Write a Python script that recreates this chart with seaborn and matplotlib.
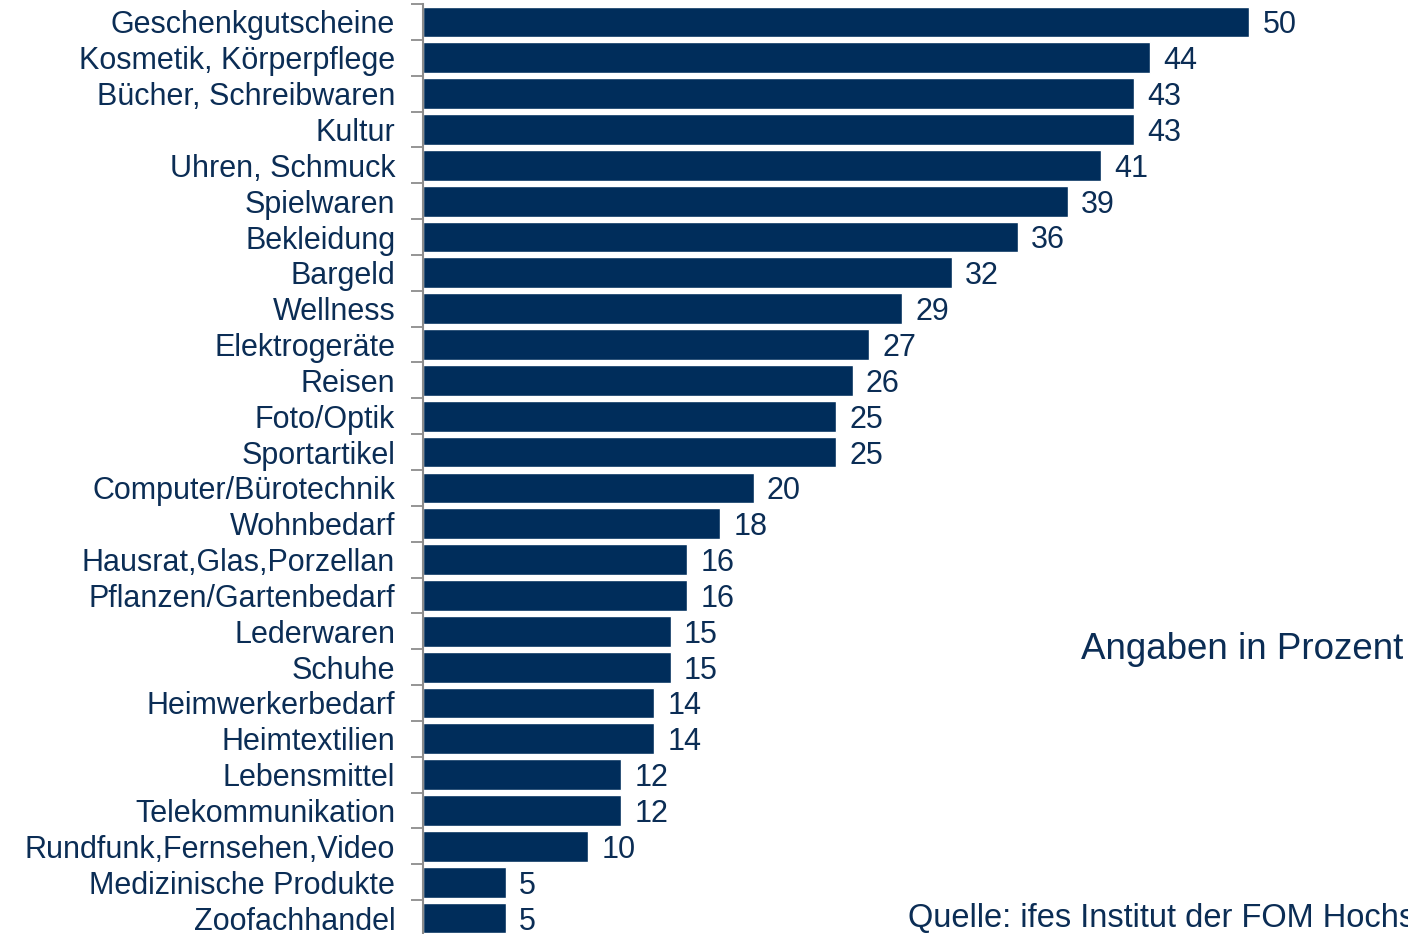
import numpy as np
import pandas as pd
import matplotlib
matplotlib.use('Agg')
import matplotlib.pyplot as plt
import seaborn as sns

# ── Data ──────────────────────────────────────────────────────────────────────
categories = [
    'Geschenkgutscheine', 'Kosmetik, Körperpflege', 'Bücher, Schreibwaren',
    'Kultur', 'Uhren, Schmuck', 'Spielwaren', 'Bekleidung', 'Bargeld',
    'Wellness', 'Elektrogeräte', 'Reisen', 'Foto/Optik', 'Sportartikel',
    'Computer/Bürotechnik', 'Wohnbedarf', 'Hausrat,Glas,Porzellan',
    'Pflanzen/Gartenbedarf', 'Lederwaren', 'Schuhe', 'Heimwerkerbedarf',
    'Heimtextilien', 'Lebensmittel', 'Telekommunikation',
    'Rundfunk,Fernsehen,Video', 'Medizinische Produkte', 'Zoofachhandel',
]
values = [50, 44, 43, 43, 41, 39, 36, 32, 29, 27, 26, 25, 25,
          20, 18, 16, 16, 15, 15, 14, 14, 12, 12, 10, 5, 5]

df = pd.DataFrame({'kategorie': categories, 'prozent': values})

BAR = '#002d5b'
TEXT = '#0b2d55'

sns.set_theme(style='white')
plt.rcParams['font.family'] = ['Liberation Sans', 'DejaVu Sans']

W, H = 1408, 934
fig = plt.figure(figsize=(W / 100, H / 100), dpi=100)
# the last row runs slightly past the bottom edge, like the cropped slide
ax = fig.add_axes([423 / W, -2 / H, 1 - 423 / W, 932 / H])

sns.barplot(data=df, y='kategorie', x='prozent', orient='h',
            color=BAR, saturation=1, width=0.86, ax=ax)

ax.set_xlim(0, 59.6)
ax.set_ylim(len(categories) - 0.5, -0.5)
ax.set_xlabel('')
ax.set_ylabel('')
ax.set_xticks([])

for s in ['top', 'right', 'bottom']:
    ax.spines[s].set_visible(False)
ax.spines['left'].set_color('#8c8c8c')
ax.spines['left'].set_linewidth(1.5)

# category labels, tick marks sit between the bars
ax.set_yticks(range(len(categories)))
ax.set_yticklabels(categories, fontsize=22, color=TEXT, va='center_baseline')
ax.tick_params(axis='y', which='major', length=0, pad=20)
ax.set_yticks(np.arange(-0.5, len(categories), 1), minor=True)
ax.tick_params(axis='y', which='minor', length=9, width=1.3, color='#8c8c8c', left=True)

# value labels
for i, v in enumerate(values):
    ax.text(v + 0.8, i, str(v), va='center_baseline', ha='left', fontsize=22, color=TEXT)

fig.text(1403 / W, 1 - 659 / H, 'Angaben in Prozent', ha='right', va='baseline',
         fontsize=26.5, color=TEXT)
# source line runs off the right edge, as in the original slide
fig.text(908 / W, 1 - 927 / H, 'Quelle: ifes Institut der FOM Hochschule',
         ha='left', va='baseline', fontsize=23.5, color=TEXT)

plt.savefig('out.png', dpi=100)
plt.close()
